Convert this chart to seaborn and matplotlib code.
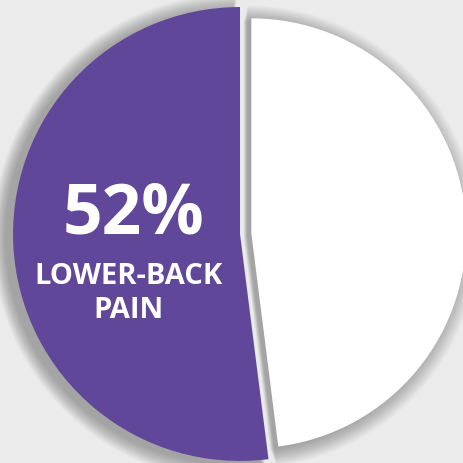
import matplotlib.pyplot as plt
import seaborn as sns

sns.set_style('white')
plt.rcParams['font.family'] = ['Open Sans', 'DejaVu Sans']

# data
labels = ['Lower-back pain', 'Other']
values = [52, 48]
slice_colors = ['#60479a', '#ffffff']
explode = [0, 0.05]
big_label = '52%'
small_lines = ['LOWER-BACK', 'PAIN']

bg = '#ebebeb'

fig = plt.figure(figsize=(4.63, 4.63), dpi=100, facecolor=bg)
ax = fig.add_axes([0, 0, 1, 1])
ax.set_facecolor(bg)


def draw_pie(radius, colors, alpha=1.0, center=(0, 0)):
    wedges, _ = ax.pie(values, colors=colors, startangle=90, counterclock=True,
                       explode=explode, radius=radius, center=center,
                       wedgeprops=dict(linewidth=0, alpha=alpha))
    # white slice is a bit smaller than the purple one
    wedges[1].set_radius(radius * 0.947)
    return wedges


# soft shadow, thrown down and to the left
for k in range(20):
    draw_pie(1 + 0.004 * k, ['black', 'black'], alpha=0.016,
             center=(-0.035 + 0.001 * k, -0.015))

draw_pie(1.0, slice_colors)

ax.text(-0.471, 0.004, big_label, color='white', fontsize=50, fontweight='bold',
        ha='center', va='baseline')
ax.text(-0.493, -0.220, small_lines[0], color='white', fontsize=21, fontweight='bold',
        ha='center', va='baseline')
ax.text(-0.493, -0.370, small_lines[1], color='white', fontsize=21, fontweight='bold',
        ha='center', va='baseline')

ax.set_aspect('equal')
ax.set_xlim(-1.057, 0.982)
ax.set_ylim(-1.009, 1.031)
ax.axis('off')

plt.savefig('out.png', dpi=100, facecolor=bg)
